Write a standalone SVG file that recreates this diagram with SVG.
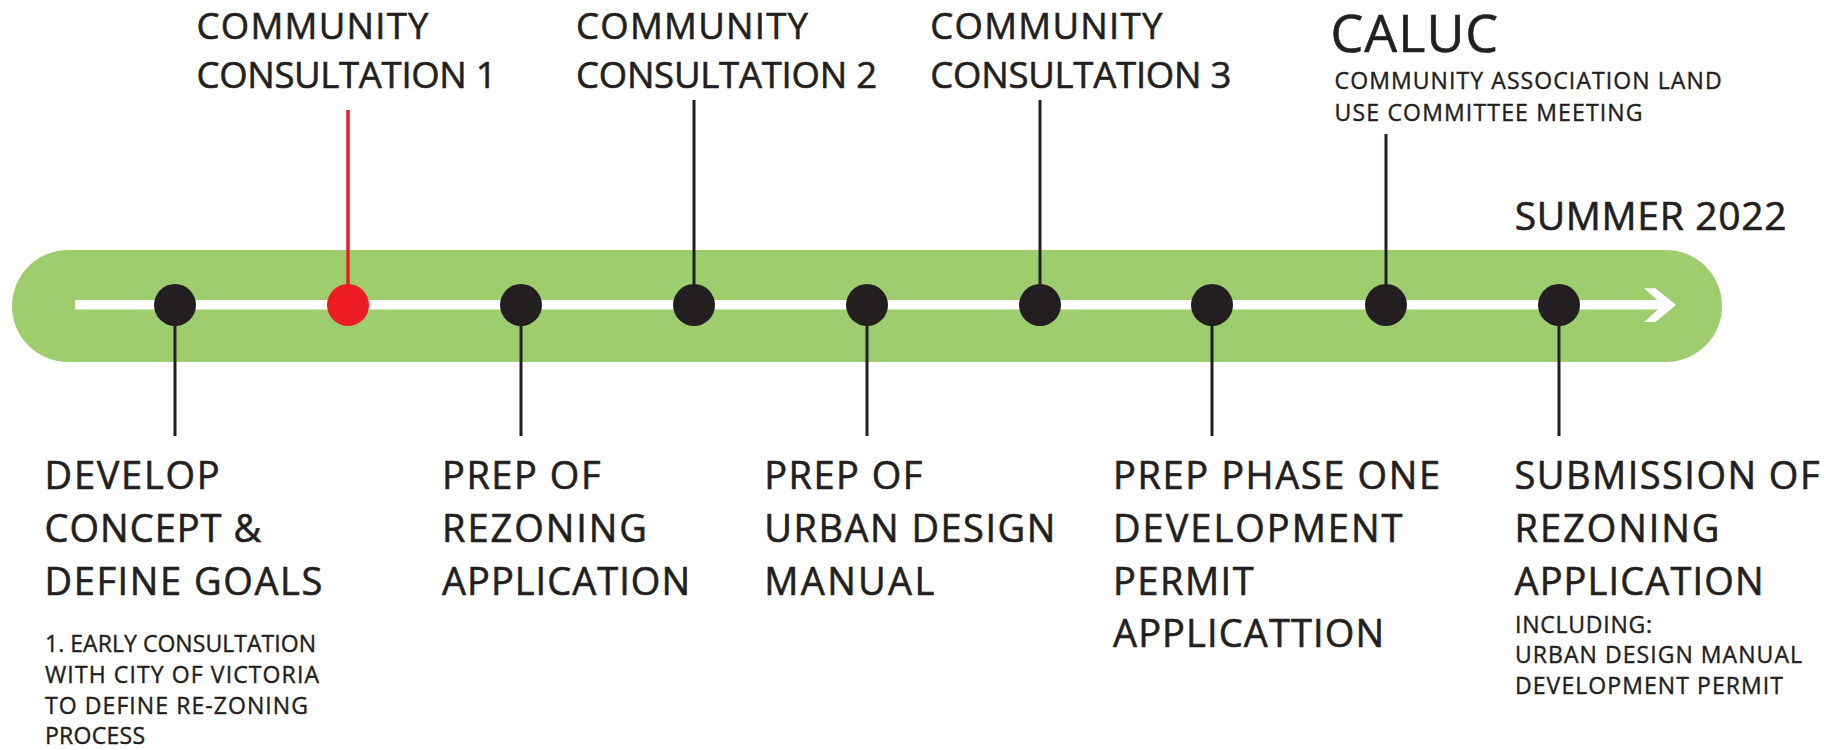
<svg xmlns="http://www.w3.org/2000/svg" width="1843" height="750" viewBox="0 0 1843 750">
  <style>
    .t { font-family: "Open Sans", "Noto Sans", "Liberation Sans", sans-serif; fill: #231f20; stroke: #231f20; stroke-width: 0.6px; }
    .big { font-size: 38px; }
    .top { font-size: 36.5px; }
    .small { font-size: 23px; stroke-width: 0.4px; }
    .stem { stroke: #231f20; stroke-width: 3; fill: none; }
    .stem-red { stroke: #ed1c24; stroke-width: 3.5; fill: none; }
    .dot { fill: #231f20; }
    .dot-red { fill: #ed1c24; }
  </style>

  <rect width="1843" height="750" fill="#ffffff"/>

  <!-- timeline track with arrow -->
  <g id="track">
    <rect x="12" y="250" width="1710" height="112" rx="56" ry="56" fill="#9dcd6c"/>
    <rect x="75" y="300" width="1590" height="9.5" fill="#ffffff"/>
    <polygon points="1644,288.3 1655.5,288.3 1676,305 1655.5,322 1644,322 1663,305" fill="#ffffff"/>
  </g>

  <!-- stems from milestones to their labels -->
  <g id="connectors">
    <line class="stem" x1="175" y1="305" x2="175" y2="436"/>
    <line class="stem-red" x1="348" y1="110" x2="348" y2="305"/>
    <line class="stem" x1="521" y1="305" x2="521" y2="436"/>
    <line class="stem" x1="694" y1="100" x2="694" y2="305"/>
    <line class="stem" x1="867" y1="305" x2="867" y2="436"/>
    <line class="stem" x1="1040" y1="100" x2="1040" y2="305"/>
    <line class="stem" x1="1212" y1="305" x2="1212" y2="436"/>
    <line class="stem" x1="1386" y1="134" x2="1386" y2="305"/>
    <line class="stem" x1="1559" y1="305" x2="1559" y2="436"/>
  </g>

  <g id="develop-concept">
    <circle class="dot" cx="175" cy="305" r="21"/>
    <text class="t big" x="44.6" y="489" textLength="175" lengthAdjust="spacing">DEVELOP</text>
    <text class="t big" x="44.6" y="542" textLength="216.5" lengthAdjust="spacing">CONCEPT &amp;</text>
    <text class="t big" x="44.6" y="595" textLength="277.7" lengthAdjust="spacing">DEFINE GOALS</text>
    <text class="t small" x="45" y="651.5" textLength="271" lengthAdjust="spacing">1. EARLY CONSULTATION</text>
    <text class="t small" x="45" y="683" textLength="274" lengthAdjust="spacing">WITH CITY OF VICTORIA</text>
    <text class="t small" x="45" y="713.5" textLength="263" lengthAdjust="spacing">TO DEFINE RE-ZONING</text>
    <text class="t small" x="45" y="744" textLength="100" lengthAdjust="spacing">PROCESS</text>
  </g>

  <g id="community-consultation-1">
    <circle class="dot-red" cx="348" cy="305" r="21"/>
    <text class="t top" x="196.5" y="39" textLength="232" lengthAdjust="spacing">COMMUNITY</text>
    <text class="t top" x="196.5" y="88" textLength="300" lengthAdjust="spacing">CONSULTATION 1</text>
  </g>

  <g id="prep-rezoning">
    <circle class="dot" cx="521" cy="305" r="21"/>
    <text class="t big" x="442" y="489" textLength="158.5" lengthAdjust="spacing">PREP OF</text>
    <text class="t big" x="442" y="542" textLength="205" lengthAdjust="spacing">REZONING</text>
    <text class="t big" x="442" y="595" textLength="248" lengthAdjust="spacing">APPLICATION</text>
  </g>

  <g id="community-consultation-2">
    <circle class="dot" cx="694" cy="305" r="21"/>
    <text class="t top" x="576" y="39" textLength="232" lengthAdjust="spacing">COMMUNITY</text>
    <text class="t top" x="576" y="88" textLength="301" lengthAdjust="spacing">CONSULTATION 2</text>
  </g>

  <g id="prep-design-manual">
    <circle class="dot" cx="867" cy="305" r="21"/>
    <text class="t big" x="764.3" y="489" textLength="158" lengthAdjust="spacing">PREP OF</text>
    <text class="t big" x="764.3" y="542" textLength="291" lengthAdjust="spacing">URBAN DESIGN</text>
    <text class="t big" x="764.3" y="595" textLength="170" lengthAdjust="spacing">MANUAL</text>
  </g>

  <g id="community-consultation-3">
    <circle class="dot" cx="1040" cy="305" r="21"/>
    <text class="t top" x="930.3" y="39" textLength="232" lengthAdjust="spacing">COMMUNITY</text>
    <text class="t top" x="930.3" y="88" textLength="301" lengthAdjust="spacing">CONSULTATION 3</text>
  </g>

  <g id="prep-development-permit">
    <circle class="dot" cx="1212" cy="305" r="21"/>
    <text class="t big" x="1113" y="489" textLength="327" lengthAdjust="spacing">PREP PHASE ONE</text>
    <text class="t big" x="1113" y="542" textLength="289.5" lengthAdjust="spacing">DEVELOPMENT</text>
    <text class="t big" x="1113" y="595" textLength="140.6" lengthAdjust="spacing">PERMIT</text>
    <text class="t big" x="1113" y="647" textLength="271" lengthAdjust="spacing">APPLICATTION</text>
  </g>

  <g id="caluc">
    <circle class="dot" cx="1386" cy="305" r="21"/>
    <text class="t" x="1330.5" y="52" font-size="52" textLength="167.6" lengthAdjust="spacing">CALUC</text>
    <text class="t small" x="1334.6" y="89" textLength="387" lengthAdjust="spacing">COMMUNITY ASSOCIATION LAND</text>
    <text class="t small" x="1334.6" y="121" textLength="308" lengthAdjust="spacing">USE COMMITTEE MEETING</text>
  </g>

  <g id="submission">
    <circle class="dot" cx="1559" cy="305" r="21"/>
    <text class="t" x="1514.7" y="230" font-size="39" textLength="271.8" lengthAdjust="spacing">SUMMER 2022</text>
    <text class="t big" x="1514.5" y="489" textLength="305" lengthAdjust="spacing">SUBMISSION OF</text>
    <text class="t big" x="1514.5" y="542" textLength="205" lengthAdjust="spacing">REZONING</text>
    <text class="t big" x="1514.5" y="595" textLength="249" lengthAdjust="spacing">APPLICATION</text>
    <text class="t small" x="1515" y="632.7" textLength="137" lengthAdjust="spacing">INCLUDING:</text>
    <text class="t small" x="1515" y="663.3" textLength="287" lengthAdjust="spacing">URBAN DESIGN MANUAL</text>
    <text class="t small" x="1515" y="694" textLength="268" lengthAdjust="spacing">DEVELOPMENT PERMIT</text>
  </g>
</svg>
